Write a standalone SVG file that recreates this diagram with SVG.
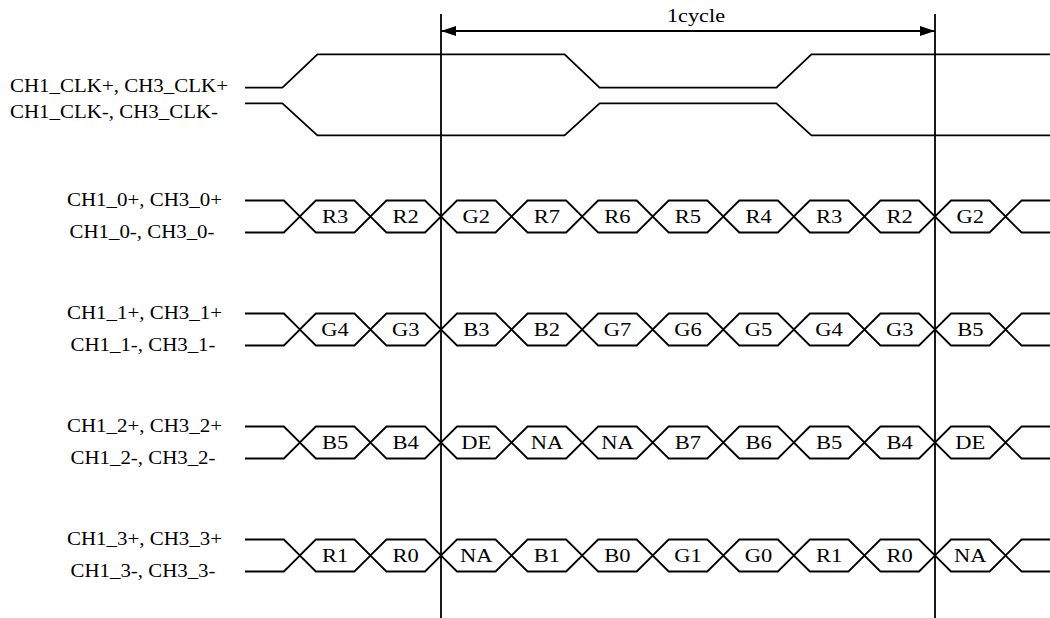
<svg xmlns="http://www.w3.org/2000/svg" xmlns:xlink="http://www.w3.org/1999/xlink" width="1050" height="618" viewBox="0 0 1050 618">
<style>
.w{fill:none;stroke:#000;stroke-width:1.8;stroke-linejoin:miter}
text{font-family:'Liberation Serif','Times New Roman',Times,serif;fill:#000}
.t{font-size:18px}
.d{font-size:19.5px;text-anchor:middle}
</style>
<defs>
<marker id="ah" viewBox="0 0 15 10" refX="15" refY="5" markerWidth="15" markerHeight="10" markerUnits="userSpaceOnUse" orient="auto-start-reverse">
<path d="M0,0 L15,5 L0,10 z" fill="#000"/>
</marker>
<path id="lane" class="w" d="M245,0 H283.86 L299.86,16 L315.86,0 H354.43 L370.43,16 L386.43,0 H425 L441,16 L457,0 H495.57 L511.57,16 L527.57,0 H566.14 L582.14,16 L598.14,0 H636.71 L652.71,16 L668.71,0 H707.29 L723.29,16 L739.29,0 H777.86 L793.86,16 L809.86,0 H848.43 L864.43,16 L880.43,0 H919 L935,16 L951,0 H989.57 L1005.57,16 L1021.57,0 H1050 M245,32 H283.86 L299.86,16 L315.86,32 H354.43 L370.43,16 L386.43,32 H425 L441,16 L457,32 H495.57 L511.57,16 L527.57,32 H566.14 L582.14,16 L598.14,32 H636.71 L652.71,16 L668.71,32 H707.29 L723.29,16 L739.29,32 H777.86 L793.86,16 L809.86,32 H848.43 L864.43,16 L880.43,32 H919 L935,16 L951,32 H989.57 L1005.57,16 L1021.57,32 H1050"/>
</defs>
<rect width="1050" height="618" fill="#fff"/>

<g id="clk">
<text class="t" x="10" y="91.5" textLength="218" lengthAdjust="spacingAndGlyphs">CH1_CLK+, CH3_CLK+</text>
<text class="t" x="10" y="118" textLength="208" lengthAdjust="spacingAndGlyphs">CH1_CLK-, CH3_CLK-</text>
<path class="w" d="M245,87.7 H282.4 L317.4,54.3 H564.6 L599.6,87.7 H776.4 L811.4,54.3 H1050"/>
<path class="w" d="M245,103.3 H282.4 L317.4,135.3 H564.6 L599.6,103.3 H776.4 L811.4,135.3 H1050"/>
</g>

<g id="lane0">
<text class="t" x="67" y="205.5" textLength="155" lengthAdjust="spacingAndGlyphs">CH1_0+, CH3_0+</text>
<text class="t" x="69.5" y="238" textLength="145" lengthAdjust="spacingAndGlyphs">CH1_0-, CH3_0-</text>
<use xlink:href="#lane" href="#lane" transform="translate(0,200.5)"/>
<g transform="translate(0,223)">
<text class="d" x="335.1" textLength="26.3" lengthAdjust="spacingAndGlyphs">R3</text>
<text class="d" x="405.7" textLength="26.3" lengthAdjust="spacingAndGlyphs">R2</text>
<text class="d" x="476.3" textLength="27.5" lengthAdjust="spacingAndGlyphs">G2</text>
<text class="d" x="546.9" textLength="26.3" lengthAdjust="spacingAndGlyphs">R7</text>
<text class="d" x="617.4" textLength="26.3" lengthAdjust="spacingAndGlyphs">R6</text>
<text class="d" x="688" textLength="26.3" lengthAdjust="spacingAndGlyphs">R5</text>
<text class="d" x="758.6" textLength="26.3" lengthAdjust="spacingAndGlyphs">R4</text>
<text class="d" x="829.1" textLength="26.3" lengthAdjust="spacingAndGlyphs">R3</text>
<text class="d" x="899.7" textLength="26.3" lengthAdjust="spacingAndGlyphs">R2</text>
<text class="d" x="970.3" textLength="27.5" lengthAdjust="spacingAndGlyphs">G2</text>
</g>
</g>

<g id="lane1">
<text class="t" x="67" y="318.5" textLength="155" lengthAdjust="spacingAndGlyphs">CH1_1+, CH3_1+</text>
<text class="t" x="70.5" y="351" textLength="145" lengthAdjust="spacingAndGlyphs">CH1_1-, CH3_1-</text>
<use xlink:href="#lane" href="#lane" transform="translate(0,313.5)"/>
<g transform="translate(0,336)">
<text class="d" x="335.1" textLength="27.5" lengthAdjust="spacingAndGlyphs">G4</text>
<text class="d" x="405.7" textLength="27.5" lengthAdjust="spacingAndGlyphs">G3</text>
<text class="d" x="476.3" textLength="26.3" lengthAdjust="spacingAndGlyphs">B3</text>
<text class="d" x="546.9" textLength="26.3" lengthAdjust="spacingAndGlyphs">B2</text>
<text class="d" x="617.4" textLength="27.5" lengthAdjust="spacingAndGlyphs">G7</text>
<text class="d" x="688" textLength="27.5" lengthAdjust="spacingAndGlyphs">G6</text>
<text class="d" x="758.6" textLength="27.5" lengthAdjust="spacingAndGlyphs">G5</text>
<text class="d" x="829.1" textLength="27.5" lengthAdjust="spacingAndGlyphs">G4</text>
<text class="d" x="899.7" textLength="27.5" lengthAdjust="spacingAndGlyphs">G3</text>
<text class="d" x="970.3" textLength="26.3" lengthAdjust="spacingAndGlyphs">B5</text>
</g>
</g>

<g id="lane2">
<text class="t" x="67" y="431.5" textLength="155" lengthAdjust="spacingAndGlyphs">CH1_2+, CH3_2+</text>
<text class="t" x="70.5" y="464" textLength="145" lengthAdjust="spacingAndGlyphs">CH1_2-, CH3_2-</text>
<use xlink:href="#lane" href="#lane" transform="translate(0,426.5)"/>
<g transform="translate(0,449)">
<text class="d" x="335.1" textLength="26.3" lengthAdjust="spacingAndGlyphs">B5</text>
<text class="d" x="405.7" textLength="26.3" lengthAdjust="spacingAndGlyphs">B4</text>
<text class="d" x="476.3" textLength="30" lengthAdjust="spacingAndGlyphs">DE</text>
<text class="d" x="546.9" textLength="32.5" lengthAdjust="spacingAndGlyphs">NA</text>
<text class="d" x="617.4" textLength="32.5" lengthAdjust="spacingAndGlyphs">NA</text>
<text class="d" x="688" textLength="26.3" lengthAdjust="spacingAndGlyphs">B7</text>
<text class="d" x="758.6" textLength="26.3" lengthAdjust="spacingAndGlyphs">B6</text>
<text class="d" x="829.1" textLength="26.3" lengthAdjust="spacingAndGlyphs">B5</text>
<text class="d" x="899.7" textLength="26.3" lengthAdjust="spacingAndGlyphs">B4</text>
<text class="d" x="970.3" textLength="30" lengthAdjust="spacingAndGlyphs">DE</text>
</g>
</g>

<g id="lane3">
<text class="t" x="67" y="544.5" textLength="155" lengthAdjust="spacingAndGlyphs">CH1_3+, CH3_3+</text>
<text class="t" x="70.5" y="577" textLength="145" lengthAdjust="spacingAndGlyphs">CH1_3-, CH3_3-</text>
<use xlink:href="#lane" href="#lane" transform="translate(0,539.5)"/>
<g transform="translate(0,562)">
<text class="d" x="335.1" textLength="26.3" lengthAdjust="spacingAndGlyphs">R1</text>
<text class="d" x="405.7" textLength="26.3" lengthAdjust="spacingAndGlyphs">R0</text>
<text class="d" x="476.3" textLength="32.5" lengthAdjust="spacingAndGlyphs">NA</text>
<text class="d" x="546.9" textLength="26.3" lengthAdjust="spacingAndGlyphs">B1</text>
<text class="d" x="617.4" textLength="26.3" lengthAdjust="spacingAndGlyphs">B0</text>
<text class="d" x="688" textLength="27.5" lengthAdjust="spacingAndGlyphs">G1</text>
<text class="d" x="758.6" textLength="27.5" lengthAdjust="spacingAndGlyphs">G0</text>
<text class="d" x="829.1" textLength="26.3" lengthAdjust="spacingAndGlyphs">R1</text>
<text class="d" x="899.7" textLength="26.3" lengthAdjust="spacingAndGlyphs">R0</text>
<text class="d" x="970.3" textLength="32.5" lengthAdjust="spacingAndGlyphs">NA</text>
</g>
</g>

<g id="connectors">
<line class="w" x1="441" y1="14" x2="441" y2="618"/>
<line class="w" x1="935" y1="14" x2="935" y2="618"/>
<line class="w" x1="441" y1="31" x2="935" y2="31" marker-start="url(#ah)" marker-end="url(#ah)"/>
<text class="t" x="667" y="22" textLength="58" lengthAdjust="spacingAndGlyphs">1cycle</text>
</g>
</svg>
